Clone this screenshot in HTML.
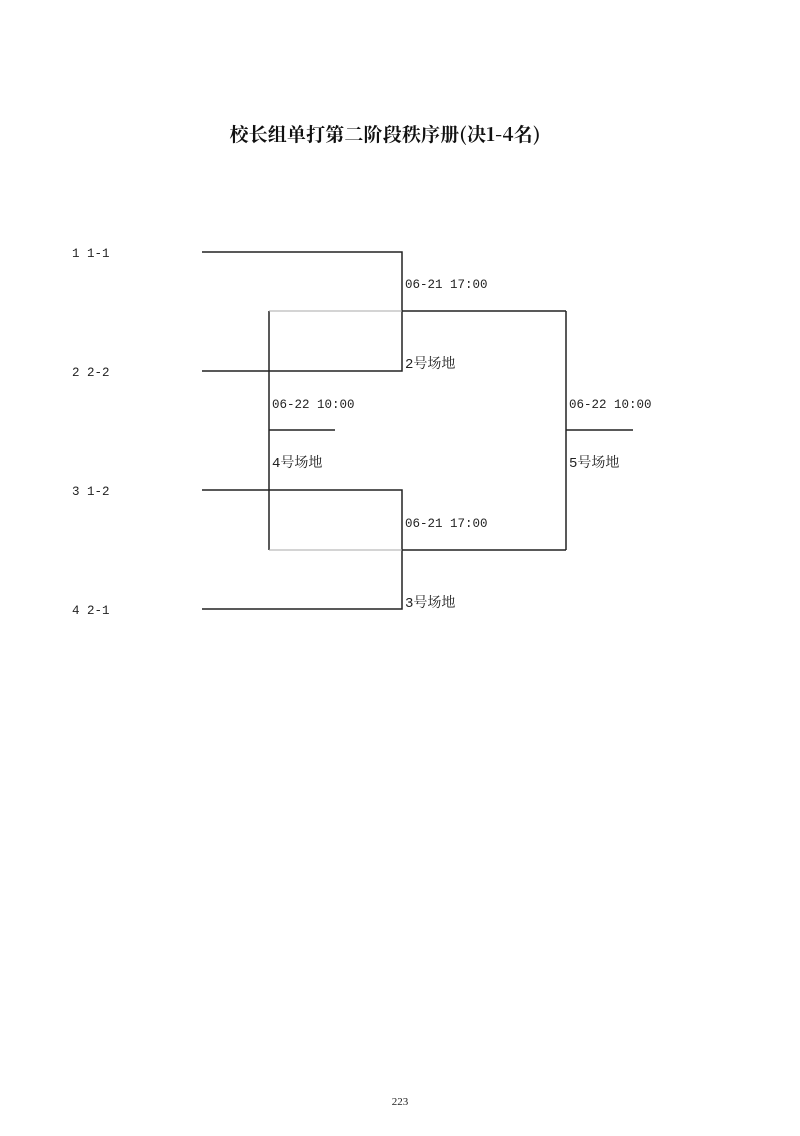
<!DOCTYPE html>
<html><head><meta charset="utf-8"><style>
body{margin:0;background:#fff;}
svg text{font-family:"Liberation Mono","Noto Serif CJK SC",monospace;font-size:12.5px;fill:#222;}
svg text.c{font-size:14px;}
</style></head><body>
<svg width="800" height="1131" viewBox="0 0 800 1131" xmlns="http://www.w3.org/2000/svg">
<rect width="800" height="1131" fill="#fff"/>
<text x="385" y="141" text-anchor="middle" textLength="311" style="font-family:'Noto Serif CJK SC',serif;font-size:19px;font-weight:bold;fill:#111">校长组单打第二阶段秩序册(决1-4名)</text>
<g stroke="#222" stroke-width="1.5" fill="none">
<polyline points="202,252 402,252 402,371 202,371"/>
<polyline points="202,490 402,490 402,609 202,609"/>
<line x1="402" y1="311" x2="566" y2="311"/>
<line x1="402" y1="550" x2="566" y2="550"/>
<line x1="566" y1="311" x2="566" y2="550"/>
<line x1="566" y1="430" x2="633" y2="430"/>
<line x1="269" y1="311" x2="269" y2="550"/>
<line x1="269" y1="430" x2="335" y2="430"/>
</g>
<g stroke="#aaa" stroke-width="1">
<line x1="269" y1="311" x2="402" y2="311"/>
<line x1="269" y1="550" x2="402" y2="550"/>
</g>
<text x="72" y="257">1 1-1</text>
<text x="72" y="376">2 2-2</text>
<text x="72" y="495">3 1-2</text>
<text x="72" y="614">4 2-1</text>
<text x="405" y="288">06-21 17:00</text>
<text class="c" x="405" y="368">2号场地</text>
<text x="405" y="527">06-21 17:00</text>
<text class="c" x="405" y="607">3号场地</text>
<text x="272" y="408">06-22 10:00</text>
<text class="c" x="272" y="467">4号场地</text>
<text x="569" y="408">06-22 10:00</text>
<text class="c" x="569" y="467">5号场地</text>
<text x="400" y="1105" text-anchor="middle" style="font-family:'Liberation Serif',serif;font-size:11px">223</text>
</svg>
</body></html>
